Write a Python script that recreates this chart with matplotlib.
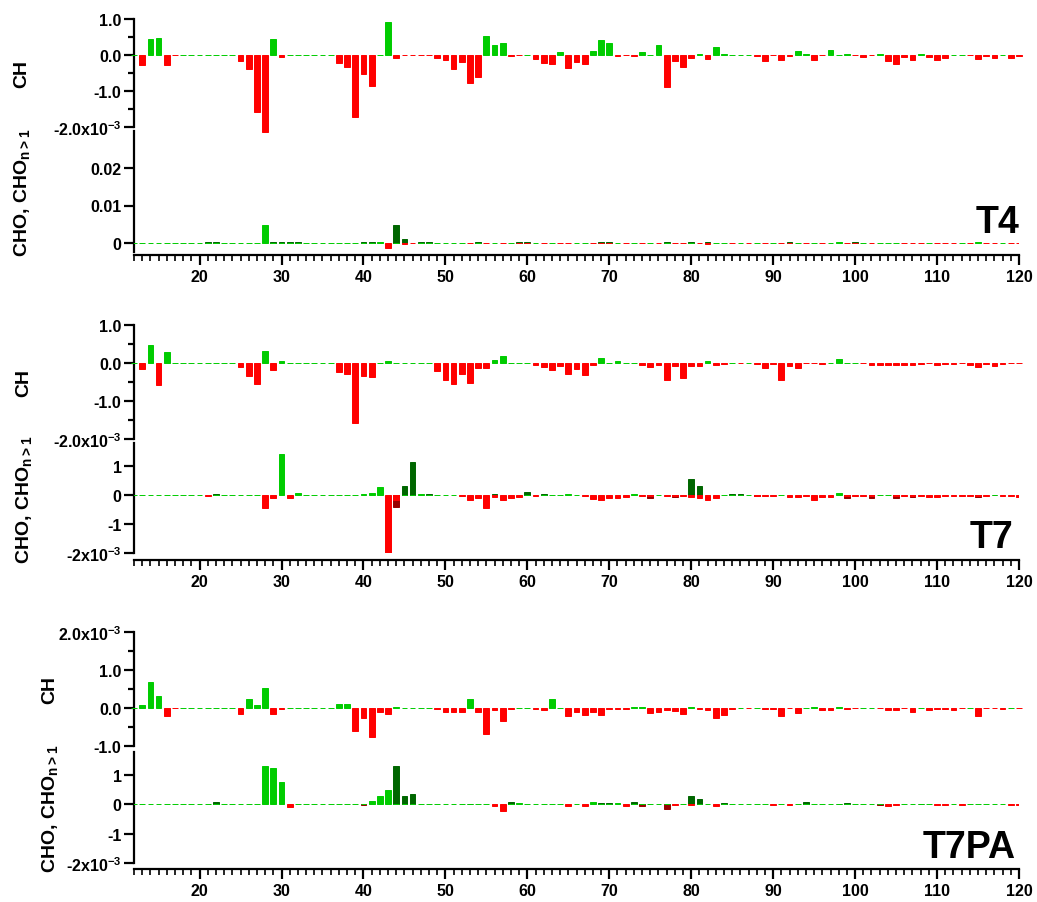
import numpy as np
import matplotlib
matplotlib.use("Agg")
import matplotlib.pyplot as plt
from matplotlib.ticker import FixedLocator, MultipleLocator

# ---------------- data (values in units of 1e-3) ----------------
MZ = list(range(12, 121))

T4_CH = [0.01, -0.29, 0.44, 0.48, -0.28, -0.01, 0.01, 0.01,
         0.01, 0.01, 0.01, 0.01, 0.01, -0.18, -0.40, -1.58, -2.15, 0.45,
         -0.05, 0.01, 0.01, 0.01, 0.01, 0.01, 0.01, -0.21, -0.33, -1.71,
         -0.52, -0.85, 0.01, 0.93, -0.08, -0.01, -0.01, -0.01, -0.01, -0.08,
         -0.13, -0.40, -0.20, -0.79, -0.60, 0.54, 0.29, 0.34, -0.02, -0.01,
         0.01, -0.11, -0.21, -0.26, 0.09, -0.37, -0.20, -0.25, 0.11, 0.42,
         0.32, -0.02, -0.01, -0.02, 0.07, 0.01, 0.29, -0.89, -0.18, -0.33,
         -0.08, 0.04, -0.10, 0.21, 0.03, 0.01, 0.01, 0.01, -0.03, -0.18,
         -0.01, -0.15, -0.02, 0.10, 0.03, -0.15, -0.01, 0.13, 0.01, 0.02,
         -0.01, -0.05, -0.01, 0.03, -0.16, -0.24, -0.05, -0.15, 0.03, -0.05,
         -0.13, -0.08, 0.01, 0.01, -0.01, -0.12, -0.03, -0.08, 0.01, -0.07, -0.03]

T4_CHO = [0.01, 0.01, 0.01, 0.01, 0.01, 0.01, 0.01, 0.01,
          0.01, 0.01, 0.01, 0.01, 0.01, 0.01, 0.01, 0.01, 4.8, 0.01,
          0.01, 0.01, 0.01, 0.01, 0.01, 0.01, 0.01, 0.01, 0.01, 0.01,
          0.01, 0.01, 0.4, -1.3, 0.01, -0.15, -0.1, 0.01, 0.01, 0.01,
          0.01, 0.01, 0.01, -0.01, 0.01, -0.01, 0.01, -0.1, 0.01, -0.01,
          -0.01, 0.01, -0.01, 0.01, -0.01, -0.01, 0.01, 0.01, -0.01, -0.01,
          -0.01, 0.01, -0.01, 0.01, -0.01, 0.01, -0.01, 0.01, -0.01, -0.01,
          0.01, -0.01, -0.2, 0.01, 0.01, -0.01, 0.01, -0.01, 0.01, -0.01,
          0.01, -0.01, -0.01, 0.01, -0.01, 0.01, -0.01, 0.01, 0.3, -0.01,
          -0.01, 0.01, -0.01, 0.01, 0.1, 0.01, -0.01, -0.01, -0.01, 0.01,
          -0.01, -0.01, -0.01, 0.01, -0.01, 0.3, -0.01, -0.01, 0.01, -0.01, -0.01]
T4_CHOn_mz = [21, 22, 29, 30, 31, 32, 40, 41, 44, 45, 47, 48, 54, 59, 60, 69, 70, 77, 80, 82, 92, 100]
T4_CHOn = [0.2, 0.2, 0.2, 0.2, 0.25, 0.2, 0.2, 0.2, 4.8, 1.1, 0.2, 0.2, 0.15, 0.2, 0.2, 0.2, 0.2, 0.25, 0.25, 0.2, 0.25, 0.25]

T7_CH = [0.01, -0.16, 0.47, -0.57, 0.30, 0.01, 0.01, 0.01,
         0.01, 0.01, 0.01, 0.01, 0.01, -0.10, -0.34, -0.55, 0.31, -0.19,
         0.05, 0.01, 0.01, 0.01, 0.01, 0.01, 0.01, -0.23, -0.29, -1.58,
         -0.34, -0.38, 0.01, 0.04, 0.01, 0.01, 0.01, 0.01, 0.01, -0.20,
         -0.44, -0.55, -0.30, -0.53, -0.14, -0.12, 0.09, 0.19, 0.01, 0.01,
         0.01, -0.04, -0.11, -0.19, -0.08, -0.28, -0.17, -0.31, -0.04, 0.12,
         0.01, 0.06, 0.01, 0.01, -0.04, -0.10, -0.04, -0.44, -0.09, -0.39,
         -0.09, -0.09, 0.04, -0.04, -0.03, 0.01, -0.01, 0.01, -0.02, -0.12,
         -0.03, -0.44, -0.09, -0.12, -0.01, -0.01, -0.02, 0.01, 0.10, 0.01,
         0.01, -0.01, -0.06, -0.04, -0.04, -0.06, -0.04, -0.04, -0.02, -0.01,
         -0.04, -0.02, -0.02, -0.01, -0.04, -0.10, -0.02, -0.09, -0.02, -0.01, -0.01]

T7_CHO = [0.01, 0.01, 0.01, 0.01, 0.01, 0.01, 0.01, 0.01,
          0.01, -0.02, 0.01, 0.01, 0.01, 0.01, 0.01, 0.01, -0.43, -0.11,
          1.43, -0.11, 0.09, 0.02, 0.01, 0.01, 0.01, 0.01, 0.01, 0.01,
          0.06, 0.09, 0.30, -2.03, -0.18, 0.01, 0.01, 0.04, 0.01, 0.01,
          0.01, 0.01, -0.03, -0.17, -0.11, -0.45, -0.07, -0.17, -0.11, -0.05,
          0.01, -0.04, 0.01, 0.02, 0.02, 0.05, 0.01, -0.03, -0.13, -0.15,
          -0.08, -0.08, -0.06, 0.04, -0.01, -0.01, 0.01, -0.03, -0.01, -0.03,
          -0.05, -0.11, -0.15, -0.08, 0.02, 0.01, 0.01, 0.01, -0.01, -0.01,
          -0.02, 0.02, -0.06, -0.05, -0.04, -0.15, -0.07, -0.07, 0.09, -0.01,
          -0.03, -0.01, -0.01, 0.02, 0.02, -0.01, -0.04, -0.04, -0.03, -0.05,
          -0.05, -0.03, -0.01, -0.01, -0.01, -0.01, -0.01, 0.01, -0.01, -0.04, -0.05]
T7_CHOn_mz = [22, 44, 45, 46, 48, 56, 60, 62, 75, 78, 80, 81, 85, 86, 88, 99, 102, 105, 107, 115, 117]
T7_CHOn = [0.03, -0.42, 0.32, 1.16, 0.03, 0.05, 0.13, 0.03, -0.09, -0.05, 0.57, 0.31, 0.03, 0.03,
           -0.04, -0.11, -0.08, -0.11, -0.06, -0.05, 0.02]

T7PA_CH = [0.01, 0.08, 0.69, 0.33, -0.22, -0.01, 0.01, 0.01,
           0.01, 0.01, 0.01, 0.01, 0.01, -0.16, 0.24, 0.09, 0.53, -0.15,
           -0.02, 0.01, 0.01, 0.01, 0.01, 0.01, 0.01, 0.12, 0.12, -0.60,
           -0.25, -0.75, -0.11, -0.16, 0.02, 0.01, 0.01, 0.01, 0.01, -0.02,
           -0.11, -0.11, -0.11, 0.25, -0.10, -0.68, -0.05, -0.34, -0.02, 0.01,
           0.01, -0.03, -0.06, 0.24, 0.01, -0.22, -0.09, -0.19, -0.09, -0.18,
           -0.03, -0.03, -0.03, 0.02, 0.02, -0.13, -0.09, -0.05, -0.07, -0.15,
           0.03, -0.02, -0.06, -0.25, -0.17, -0.03, 0.01, -0.01, 0.01, -0.02,
           -0.02, -0.21, -0.01, -0.13, 0.01, 0.04, -0.05, -0.05, 0.02, -0.02,
           -0.01, 0.01, 0.01, -0.01, -0.04, -0.04, -0.01, -0.09, 0.01, -0.05,
           -0.03, -0.02, -0.06, -0.01, 0.01, -0.22, -0.01, -0.01, -0.02, 0.01, -0.01]

T7PA_CHO = [0.01, 0.01, 0.01, 0.01, 0.01, 0.01, 0.01, 0.01,
            0.01, 0.02, 0.01, 0.01, 0.01, 0.01, 0.01, 0.01, 1.33, 1.25,
            0.76, -0.08, 0.01, 0.01, 0.01, 0.01, 0.01, 0.01, 0.01, 0.01,
            0.01, 0.11, 0.28, 0.49, 0.01, 0.01, 0.01, 0.01, 0.01, 0.01,
            0.01, 0.01, 0.01, 0.01, 0.01, 0.01, -0.06, -0.24, 0.01, 0.04,
            0.01, 0.01, 0.01, 0.01, 0.01, -0.04, 0.01, -0.05, 0.10, 0.01,
            0.01, 0.04, -0.05, 0.01, 0.01, 0.01, 0.01, 0.01, -0.03, 0.01,
            -0.03, 0.01, 0.01, -0.04, 0.01, 0.01, 0.01, 0.01, 0.01, 0.01,
            -0.03, 0.01, -0.03, 0.02, 0.01, 0.01, 0.01, 0.01, 0.01, 0.01,
            0.01, 0.01, 0.01, 0.01, -0.05, -0.03, 0.01, 0.01, 0.01, 0.01,
            -0.03, -0.03, 0.01, -0.01, 0.01, 0.01, 0.01, 0.01, 0.01, -0.03, -0.01]
T7PA_CHOn_mz = [22, 40, 44, 45, 46, 53, 58, 69, 70, 73, 74, 77, 80, 81, 84, 94, 98, 99, 103, 108]
T7PA_CHOn = [0.09, -0.02, 1.33, 0.29, 0.37, 0.03, 0.09, 0.05, 0.05, 0.10, -0.04, -0.17, 0.30, 0.17,
             0.05, 0.08, 0.03, 0.04, -0.03, 0.03]

SAMPLES = ["T4", "T7", "T7PA"]
X_TICKS = [20, 30, 40, 50, 60, 70, 80, 90, 100, 110, 120]

# ---------------- style ----------------
plt.rcParams['font.family'] = ['Liberation Sans', 'DejaVu Sans']
plt.rcParams['font.weight'] = 'bold'
plt.rcParams['mathtext.fontset'] = 'custom'
plt.rcParams['mathtext.rm'] = 'Liberation Sans:bold'
plt.rcParams['mathtext.bf'] = 'Liberation Sans:bold'
plt.rcParams['mathtext.default'] = 'bf'

GREEN = '#00CC00'
RED = '#FF0000'
DGREEN = '#006600'
DRED = '#990000'

W, H = 1037, 903
fig = plt.figure(figsize=(W / 100, H / 100), dpi=100)

X0, X1 = 134, 1019


def add_ax(top_px, bot_px):
    return fig.add_axes([X0 / W, 1 - bot_px / H, (X1 - X0) / W, (bot_px - top_px) / H])


def style_common(ax):
    for s in ['top', 'right']:
        ax.spines[s].set_visible(False)
    ax.spines['left'].set_linewidth(1.6)
    ax.spines['bottom'].set_linewidth(1.6)
    ax.set_xlim(12, 120)
    ax.set_facecolor('none')
    ax.tick_params(axis='y', which='major', direction='out', length=7, width=1.6,
                   labelsize=11.5, pad=2)
    ax.tick_params(axis='y', which='minor', direction='out', length=4, width=1.6)


def bars(ax, x, v, pos, neg, clip=True):
    cols = [pos if val >= 0 else neg for val in v]
    ax.bar(x, v, width=0.7, color=cols, edgecolor=cols, linewidth=0.7, clip_on=clip, zorder=3)


groups = [
    dict(ch=(20, 128), chlim=(-2, 1), chticks=[-2, -1, 0, 1],
         chlabels=['-2.0x10$^{-3}$', '-1.0', '0.0', '1.0'],
         cho=(131.5, 253), cholim=(-2.4, 30), choticks=[0, 10, 20],
         cholabels=['0', '0.01', '0.02'], xaxis=256,
         data=(T4_CH, T4_CHO, T4_CHOn_mz, T4_CHOn), name_pos=(1020, 233), chlab_x=22),
    dict(ch=(326, 440), chlim=(-2, 1), chticks=[-2, -1, 0, 1],
         chlabels=['-2.0x10$^{-3}$', '-1.0', '0.0', '1.0'],
         cho=(444.3, 554), cholim=(-2, 1.8), choticks=[-2, -1, 0, 1],
         cholabels=['-2x10$^{-3}$', '-1', '0', '1'], xaxis=561,
         data=(T7_CH, T7_CHO, T7_CHOn_mz, T7_CHOn), name_pos=(1013, 548), chlab_x=24),
    dict(ch=(633.3, 747), chlim=(-1, 2), chticks=[-1, 0, 1, 2],
         chlabels=['-1.0', '0.0', '1.0', '2.0x10$^{-3}$'],
         cho=(752.8, 864), cholim=(-2, 1.8), choticks=[-2, -1, 0, 1],
         cholabels=['-2x10$^{-3}$', '-1', '0', '1'], xaxis=870,
         data=(T7PA_CH, T7PA_CHO, T7PA_CHOn_mz, T7PA_CHOn), name_pos=(1016, 858), chlab_x=50),
]

for name, g in zip(SAMPLES, groups):
    ch_vals, cho_vals, n_mz, n_vals = g['data']

    # --- CH panel ---
    ax1 = add_ax(*g['ch'])
    style_common(ax1)
    ax1.spines['bottom'].set_visible(False)
    ax1.set_xticks([])
    ax1.set_ylim(*g['chlim'])
    ax1.yaxis.set_major_locator(FixedLocator(g['chticks']))
    ax1.set_yticklabels(g['chlabels'])
    ax1.yaxis.set_minor_locator(MultipleLocator(0.5))
    bars(ax1, MZ, ch_vals, GREEN, RED, clip=False)
    cy = 1 - (g['ch'][0] + g['ch'][1]) / 2 / H
    fig.text(g['chlab_x'] / W, cy, 'CH', rotation=90, fontsize=14, fontweight='bold',
             ha='center', va='center')

    # --- CHO panel ---
    ax2 = add_ax(*g['cho'])
    style_common(ax2)
    ax2.set_ylim(*g['cholim'])
    ax2.yaxis.set_major_locator(FixedLocator(g['choticks']))
    ax2.set_yticklabels(g['cholabels'])
    ax2.spines['bottom'].set_position(('outward', (g['xaxis'] - g['cho'][1]) * 0.72))
    ax2.xaxis.set_major_locator(FixedLocator(X_TICKS))
    ax2.xaxis.set_minor_locator(MultipleLocator(1))
    ax2.tick_params(axis='x', which='major', direction='out', length=7, width=1.6,
                    labelsize=11.5, pad=3)
    ax2.tick_params(axis='x', which='minor', direction='out', length=4, width=1.2)
    bars(ax2, n_mz, n_vals, DGREEN, DRED)
    bars(ax2, MZ, cho_vals, GREEN, RED)
    cy2 = 1 - (g['cho'][0] + g['cho'][1]) / 2 / H
    fig.text(g['chlab_x'] / W, cy2, 'CHO, CHO$_{\\mathbf{n{>}1}}$', rotation=90, fontsize=14,
             fontweight='bold', ha='center', va='center')

    fig.text(g['name_pos'][0] / W, 1 - g['name_pos'][1] / H, name, fontsize=27,
             fontweight='bold', ha='right', va='baseline')

fig.savefig('out.png', dpi=100)
